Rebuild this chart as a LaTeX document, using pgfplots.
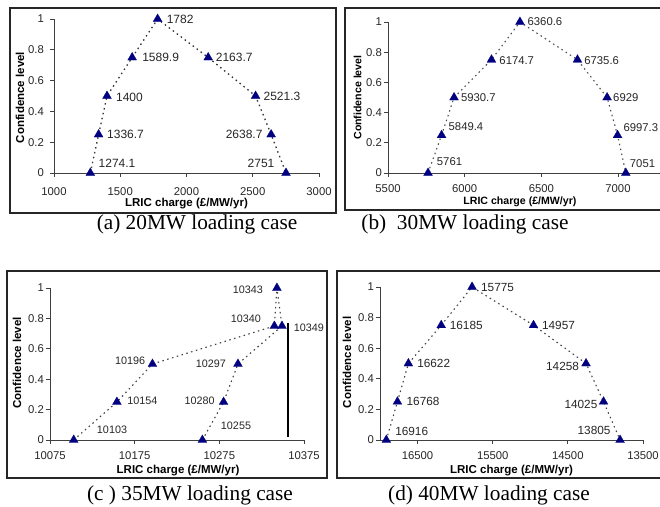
\documentclass[border=0pt]{standalone}
\usepackage{fontspec}
\setmainfont{Liberation Sans}
\newfontfamily\capfont{Liberation Serif}
\usepackage{pgfplots}
\pgfplotsset{compat=1.18}
\usepackage{pgfplotstable}
\definecolor{navy}{HTML}{000080}

% x = charge, y = confidence level, lab = printed label, dx/dy = label offset (pt)
\pgfplotstableread{
x y lab dx dy
1274.1 0 1274.1 26.7 10
1336.7 0.25 1336.7 26.9 0
1400 0.5 1400 22.5 -1
1589.9 0.75 1589.9 28.5 0.5
1782 1 1782 22.5 0
2163.7 0.75 2163.7 26 0
2521.3 0.5 2521.3 26.4 0
2638.7 0.25 2638.7 -27 0
2751 0 2751 -25 10
}\tabA

\pgfplotstableread{
x y lab dx dy
5761 0 5761 21.5 11
5849.4 0.25 5849.4 24.4 8.5
5930.7 0.5 5930.7 24.3 0
6174.7 0.75 6174.7 25.3 -1
6360.6 1 6360.6 25 0
6735.6 0.75 6735.6 24.2 -1
6929 0.5 6929 18.7 0
6997.3 0.25 6997.3 23.2 8
7051 0 7051 16.7 9.7
}\tabB

% 35MW: two branches meeting at 10343
\pgfplotstableread{
x y
10103 0
10154 0.25
10196 0.5
10340 0.75
10343 1
}\tabCa
\pgfplotstableread{
x y
10255 0
10280 0.25
10297 0.5
10349 0.75
10343 1
}\tabCb
\pgfplotstableread{
x y lab dx dy
10103 0 10103 38.3 10
10154 0.25 10154 25.6 1
10196 0.5 10196 -22.4 3
10340 0.75 10340 -28.4 7.3
10343 1 10343 -29 -2
10349 0.75 10349 27 -2
10297 0.5 10297 -27 0
10280 0.25 10280 -24 1
10255 0 10255 33.6 14
}\tabCpts

\pgfplotstableread{
x y lab dx dy
16916 0 16916 25.4 8.7
16768 0.25 16768 25.6 0
16622 0.5 16622 25.3 0
16185 0.75 16185 25 0
15775 1 15775 25.5 0
14957 0.75 14957 25 0
14258 0.5 14258 -23.5 -2.5
14025 0.25 14025 -22.6 -2.2
13805 0 13805 -26 9.7
}\tabD

\pgfplotsset{
  panel/.style={
    scale only axis, anchor=south west,
    axis x line*=bottom, axis y line*=left,
    ymin=0, ymax=1,
    ytick={0,0.2,0.4,0.6,0.8,1}, yticklabels={0,0.2,0.4,0.6,0.8,1},
    scaled x ticks=false,
    enlargelimits=false, clip=false,
    tick align=outside, major tick length=4pt,
    axis line style={draw=black!75, line width=0.9pt},
    tick style={draw=black!75, line width=0.9pt},
    tick label style={font=\fontsize{11.3}{12}\selectfont, text=black!85},
    xticklabel style={anchor=center},
    yticklabel style={anchor=east, inner sep=0pt, xshift=-6pt},
    xlabel={LRIC charge (£/MW/yr)}, ylabel={Confidence level},
    label style={font=\bfseries\fontsize{11.5}{12}\selectfont, anchor=center},
  },
  trend/.style={black!80, line width=1.3pt, dash pattern=on 1.5pt off 3.5pt},
  tri/.style={mark=triangle*, mark size=5.2pt,
    mark options={solid, fill=navy, draw=navy, line width=0.2pt}},
  labelled/.style={
    nodes near coords, point meta=explicit symbolic,
    visualization depends on={\thisrow{dx}\as\lx},
    visualization depends on={\thisrow{dy}\as\ly},
    nodes near coords style={anchor=center, inner sep=0pt,
      xshift=\lx pt, yshift=\ly pt, text=black!85, font=\fontsize{#1}{12}\selectfont},
  },
}

\begin{document}
\begin{tikzpicture}
\path[use as bounding box] (0pt,0pt) rectangle (660pt,506pt);

% panel frames
\draw[black!85, line width=1.2pt] (10pt,293pt) rectangle (336pt,498pt);
\draw[black!85, line width=1.2pt] (660pt,498pt) -- (345pt,498pt) -- (345pt,296pt) -- (660pt,296pt);
\draw[black!85, line width=1.2pt] (7pt,28pt) rectangle (327pt,235pt);
\draw[black!85, line width=1.2pt] (660pt,235pt) -- (337pt,235pt) -- (337pt,28pt) -- (660pt,28pt);

% (a) 20MW
\begin{axis}[panel, at={(54pt,333pt)}, width=265pt, height=154pt,
  xmin=1000, xmax=3000,
  xtick={1000,1500,2000,2500,3000}, xticklabels={1000,1500,2000,2500,3000},
  xticklabel style={yshift=-15pt},
  xlabel style={at={(axis description cs:0.5,-0.2)}},
  ylabel style={at={(axis description cs:-0.128,0.49)}}]
  \addplot[trend, tri, labelled=12] table[x=x, y=y, meta=lab] {\tabA};
\end{axis}

% (b) 30MW
\begin{axis}[panel, at={(388pt,333pt)}, width=272pt, height=151pt,
  xmin=5500, xmax=7274,
  xtick={5500,6000,6500,7000}, xticklabels={5500,6000,6500,7000},
  xticklabel style={yshift=-11.5pt},
  yticklabel style={xshift=4pt},
  label style={font=\bfseries\fontsize{10.6}{12}\selectfont},
  xlabel style={at={(axis description cs:0.485,-0.19)}},
  ylabel style={at={(axis description cs:-0.112,0.5)}}]
  \addplot[trend, line width=1.1pt, black!70, tri, labelled=11.3] table[x=x, y=y, meta=lab] {\tabB};
\end{axis}

% (c) 35MW
\begin{axis}[panel, at={(50pt,66pt)}, width=254pt, height=152pt,
  xmin=10075, xmax=10375,
  xtick={10075,10175,10275,10375}, xticklabels={10075,10175,10275,10375},
  xticklabel style={yshift=-11.5pt},
  yticklabel style={xshift=4pt},
  xlabel style={at={(axis description cs:0.504,-0.2)}},
  ylabel style={at={(axis description cs:-0.13,0.507)}}]
  \addplot[trend, line width=1.1pt, black!75, no marks] table[x=x, y=y] {\tabCa};
  \addplot[trend, line width=1.1pt, black!75, no marks] table[x=x, y=y] {\tabCb};
  \addplot[black, line width=1.3pt, no marks] coordinates {(10356,0.02) (10356,0.77)};
  \addplot[only marks, tri, labelled=10.8] table[x=x, y=y, meta=lab] {\tabCpts};
\end{axis}

% (d) 40MW
\begin{axis}[panel, at={(380pt,66pt)}, width=263pt, height=153pt,
  x dir=reverse, xmin=13500, xmax=17000,
  xtick={13500,14500,15500,16500}, xticklabels={13500,14500,15500,16500},
  xticklabel style={yshift=-11.5pt},
  yticklabel style={xshift=4pt},
  xlabel style={at={(axis description cs:0.5,-0.2)}},
  ylabel style={at={(axis description cs:-0.125,0.507)}}]
  \addplot[trend, line width=1.1pt, black!75, tri, labelled=11.8] table[x=x, y=y, meta=lab] {\tabD};
\end{axis}

% captions
\node[font=\capfont\fontsize{21.3}{24}\selectfont] at (197pt,282pt) {(a) 20MW loading case};
\node[font=\capfont\fontsize{21.3}{24}\selectfont] at (465pt,282pt) {(b)\ \ 30MW loading case};
\node[font=\capfont\fontsize{21.3}{24}\selectfont] at (190pt,11pt) {(c ) 35MW loading case};
\node[font=\capfont\fontsize{21.3}{24}\selectfont] at (489pt,11pt) {(d) 40MW loading case};
\end{tikzpicture}
\end{document}
